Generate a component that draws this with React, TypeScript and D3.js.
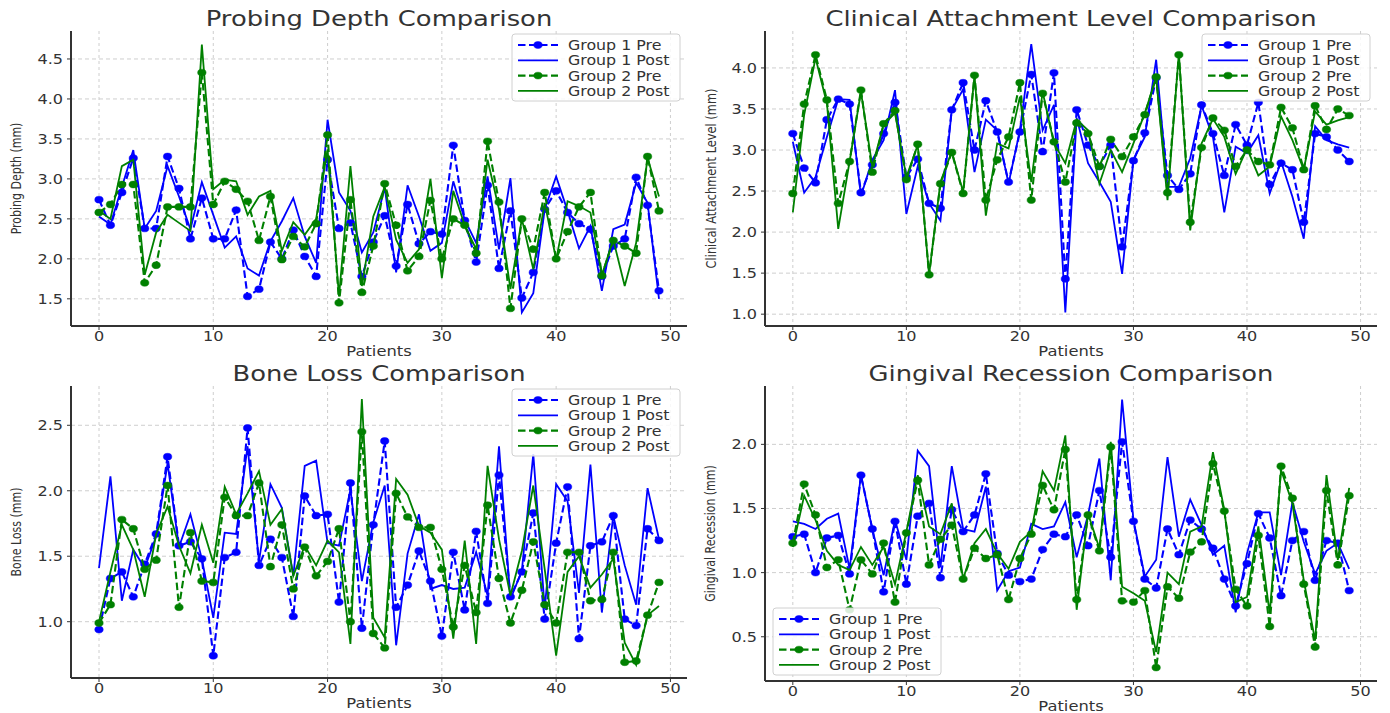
import React from "react";
import * as d3 from "d3";

// ---------- DATA ----------
const xTicks = [0, 10, 20, 30, 40, 50];
const seriesNames = ["Group 1 Pre", "Group 1 Post", "Group 2 Pre", "Group 2 Post"];

const pdG1Pre = [2.74,2.42,2.83,3.26,2.38,2.38,3.28,2.88,2.25,2.76,2.25,2.25,2.61,1.53,1.62,2.21,2.0,2.36,2.03,1.78,3.24,2.38,2.45,1.78,2.21,2.54,1.91,2.68,2.19,2.34,2.31,3.42,2.48,1.96,2.92,1.88,2.6,1.51,1.83,2.62,2.85,2.58,2.44,2.37,1.78,2.16,2.25,3.02,2.67,1.6];
const pdG1Post = [2.53,2.43,2.9,3.36,2.38,2.6,3.16,2.78,2.37,2.96,2.55,2.14,2.28,1.88,1.79,2.22,2.47,2.76,2.28,1.95,3.74,2.83,2.6,2.08,2.33,2.89,1.83,2.92,2.53,2.1,2.2,2.97,2.49,2.2,3.03,2.12,3.01,1.33,1.57,2.62,3.03,2.6,2.13,2.41,1.6,2.37,2.43,2.95,2.7,1.5];
const pdG2Pre = [2.58,2.68,2.93,2.93,1.7,1.92,2.65,2.65,2.65,4.33,2.68,2.97,2.87,2.72,2.23,2.78,1.99,2.28,2.15,2.44,3.55,1.45,2.74,1.58,2.16,2.94,2.42,1.85,2.03,2.73,2.0,2.5,2.42,2.07,3.47,2.71,1.38,2.5,2.12,2.83,2.0,2.34,2.65,2.83,1.79,2.23,2.16,2.07,3.28,2.6];
const pdG2Post = [2.6,2.5,3.16,3.24,1.8,2.33,2.55,2.45,2.35,4.68,2.87,2.99,2.97,2.55,2.78,2.85,2.1,2.46,2.3,2.5,3.37,1.53,3.16,1.66,2.53,2.9,2.24,1.95,2.12,3.0,1.76,2.85,2.42,2.12,3.24,2.62,1.62,2.5,1.87,2.7,1.99,2.72,2.66,2.58,1.8,2.24,1.66,2.2,3.26,2.78];

const calG1Pre = [3.2,2.78,2.6,3.37,3.62,3.56,2.48,2.82,3.2,3.58,2.67,2.89,2.35,2.29,3.49,3.82,3.0,3.6,3.22,2.61,3.22,3.92,2.98,3.94,1.43,3.49,3.06,2.8,3.06,1.82,2.87,3.21,3.88,2.69,2.52,2.71,3.55,3.2,2.69,3.31,3.06,3.58,2.58,2.84,2.76,2.12,3.2,3.16,3.0,2.86];
const calG1Post = [3.1,2.48,2.67,3.16,3.62,3.61,2.44,2.88,3.12,3.73,2.22,2.8,2.35,2.14,3.49,3.74,2.73,3.37,3.24,2.59,3.24,4.29,3.24,3.55,1.02,3.39,2.84,2.61,2.37,1.49,2.88,3.16,4.1,2.55,2.55,2.9,3.54,3.16,2.24,3.04,2.96,3.18,2.47,2.86,2.43,1.92,3.29,3.12,3.07,3.03];
const calG2Pre = [2.47,3.56,4.16,3.61,2.35,2.86,3.73,2.73,3.32,3.48,2.64,3.07,1.48,2.59,2.97,2.47,3.91,2.39,2.88,3.16,3.82,2.39,3.69,3.1,2.61,3.33,3.2,2.8,3.13,2.92,3.16,3.43,3.89,2.48,4.16,2.12,3.03,3.39,3.24,2.8,3.0,2.86,2.82,3.52,3.27,2.76,3.54,3.25,3.5,3.42];
const calG2Post = [2.24,3.43,4.12,3.57,2.04,2.86,3.71,2.8,3.31,3.45,2.67,3.06,1.48,2.61,2.98,2.49,3.91,2.2,3.08,3.02,3.65,2.61,3.71,3.08,2.84,3.37,3.24,2.59,3.0,2.73,3.08,3.45,3.88,2.39,4.18,2.02,3.08,3.38,3.16,2.71,3.02,2.69,2.8,3.41,3.12,2.76,3.47,3.31,3.36,3.4];

const blG1Pre = [0.94,1.33,1.38,1.19,1.44,1.67,2.26,1.58,1.61,1.48,0.74,1.49,1.53,2.48,1.43,1.63,1.49,1.04,1.96,1.81,1.82,1.15,2.06,0.95,1.74,2.38,1.11,1.28,1.54,1.31,0.89,1.53,1.09,1.69,1.14,2.12,1.19,1.38,1.83,1.02,1.6,2.03,0.87,1.58,1.61,1.81,1.02,0.97,1.71,1.62];
const blG1Post = [1.41,2.11,1.16,1.55,1.41,1.65,2.21,1.57,1.82,1.48,1.03,1.68,1.67,2.34,1.46,2.05,1.87,1.35,2.19,2.23,1.6,1.58,2.01,1.31,1.76,2.04,0.82,1.52,1.82,1.25,1.28,1.25,1.26,1.53,1.2,2.34,1.17,1.39,2.28,1.1,2.05,1.92,1.22,2.2,1.07,1.81,1.43,1.13,2.02,1.63];
const blG2Pre = [0.99,1.13,1.78,1.71,1.4,1.47,2.04,1.11,1.68,1.31,1.3,1.95,1.81,1.81,2.06,1.42,1.74,1.25,1.57,1.35,1.46,1.71,1.0,2.45,0.91,0.8,1.98,1.8,1.72,1.72,1.4,0.96,1.43,1.07,1.89,1.33,0.99,1.24,1.61,1.13,0.99,1.53,1.53,1.16,1.17,1.53,0.69,0.7,1.05,1.3];
const blG2Post = [1.0,1.38,1.74,1.55,1.19,1.67,1.88,1.58,1.37,1.74,1.45,2.03,1.82,1.98,2.15,1.74,1.86,1.35,1.58,1.43,1.62,1.53,0.83,2.7,1.03,0.88,2.09,1.97,1.73,1.68,1.55,0.87,1.62,0.83,2.19,1.63,1.2,1.54,2.04,1.4,0.74,1.38,1.5,1.26,1.36,1.48,0.84,0.67,1.05,1.12];

const grG1Pre = [1.28,1.3,1.0,1.27,1.29,0.99,1.76,1.34,0.85,1.4,0.91,1.44,1.54,0.96,1.49,1.32,1.45,1.77,1.15,0.98,0.93,0.95,1.18,1.3,1.28,1.45,1.21,1.64,1.12,2.02,1.4,0.95,0.88,1.34,1.14,1.41,1.34,1.19,0.95,0.74,1.07,1.46,1.27,0.82,1.25,1.32,0.94,1.25,1.23,0.86];
const grG1Post = [1.4,1.38,1.34,1.42,1.46,1.03,1.76,1.34,0.98,1.41,1.1,1.95,1.83,1.04,1.83,1.34,1.32,1.67,0.86,1.01,1.04,1.38,1.34,1.36,1.55,1.12,1.45,1.89,0.94,2.35,1.41,0.97,1.1,1.9,1.28,1.57,1.37,1.14,1.21,0.69,1.15,1.47,1.47,0.98,1.55,1.24,0.99,1.17,1.23,1.03];
const grG2Pre = [1.23,1.69,1.45,1.04,1.1,0.71,1.1,0.99,1.23,0.77,1.31,1.72,1.06,1.26,1.37,0.95,1.19,1.11,1.14,0.79,1.11,1.3,1.68,1.49,1.96,0.79,1.45,1.17,1.98,0.78,0.77,0.86,0.26,0.89,0.8,1.16,1.24,1.85,1.48,0.87,0.74,1.29,0.58,1.83,1.58,0.91,0.42,1.64,1.06,1.6];
const grG2Post = [1.2,1.6,1.41,1.17,1.06,1.02,1.2,1.06,1.2,0.91,1.32,1.76,1.36,1.3,1.54,0.95,1.23,1.34,1.15,1.03,1.24,1.32,1.79,1.64,2.07,0.71,1.46,1.19,2.02,0.89,0.84,0.78,0.38,1.0,0.91,1.32,1.36,1.94,1.49,0.77,0.81,1.36,0.68,1.8,1.54,0.94,0.47,1.76,1.1,1.66];

const pdTicks = [1.5, 2.0, 2.5, 3.0, 3.5, 4.0, 4.5];
const calTicks = [1.0, 1.5, 2.0, 2.5, 3.0, 3.5, 4.0];
const blTicks = [1.0, 1.5, 2.0, 2.5];
const grTicks = [0.5, 1.0, 1.5, 2.0];

const xDomain = [-2.45, 51.45];
const pdDomain = [1.16, 4.85];
const calDomain = [0.856, 4.45];
const blDomain = [0.57, 2.8];
const grDomain = [0.155, 2.455];

// ---------- LAYOUT / STYLE ----------
const W = 1390, H = 713;
const SX = 1.2;
const FONT = "DejaVu Sans, sans-serif";
const TXT = "#333333";
const colors = ["#0000ff", "#0000ff", "#008000", "#008000"];
const isPre = [true, false, true, false];

const panels = [
  { title: "Probing Depth Comparison", ylabel: "Probing Depth (mm)", data: [pdG1Pre, pdG1Post, pdG2Pre, pdG2Post], yDomain: pdDomain, yTicks: pdTicks, box: { left: 71, right: 687, top: 31, bottom: 326 }, legend: "ur", ylabelSize: 11 },
  { title: "Clinical Attachment Level Comparison", ylabel: "Clinical Attachment Level (mm)", data: [calG1Pre, calG1Post, calG2Pre, calG2Post], yDomain: calDomain, yTicks: calTicks, box: { left: 765, right: 1377, top: 31, bottom: 326 }, legend: "ur", ylabelSize: 11.4 },
  { title: "Bone Loss Comparison", ylabel: "Bone Loss (mm)", data: [blG1Pre, blG1Post, blG2Pre, blG2Post], yDomain: blDomain, yTicks: blTicks, box: { left: 71, right: 687, top: 386, bottom: 678 }, legend: "ur", ylabelSize: 11 },
  { title: "Gingival Recession Comparison", ylabel: "Gingival Recession (mm)", data: [grG1Pre, grG1Post, grG2Pre, grG2Post], yDomain: grDomain, yTicks: grTicks, box: { left: 765, right: 1377, top: 386, bottom: 681 }, legend: "ll", ylabelSize: 11 },
];

function Txt({ x, y, size, anchor = "middle", rotate = false, children }: any) {
  const tr = rotate
    ? `translate(${x},${y}) rotate(-90) scale(1,${SX})`
    : `translate(${x},${y}) scale(${SX},1)`;
  return (
    <text transform={tr} fontSize={size} textAnchor={anchor} dominantBaseline="central" fill={TXT} fontFamily={FONT}>
      {children}
    </text>
  );
}

function Marker({ cx, cy, color }: any) {
  return <ellipse cx={cx} cy={cy} rx={4.2} ry={3.4} fill={color} stroke={color} strokeWidth={0.5} />;
}

function Panel({ cfg }: any) {
  const { box, title, ylabel, data, yDomain, yTicks, legend, ylabelSize } = cfg;
  const x = d3.scaleLinear().domain(xDomain).range([box.left, box.right]);
  const y = d3.scaleLinear().domain(yDomain).range([box.bottom, box.top]);
  const line = d3.line<number>().x((_, i) => x(i)).y((d) => y(d));
  const cxm = (box.left + box.right) / 2;
  const cym = (box.top + box.bottom) / 2;

  const lw = 168, lh = 67;
  const lx = legend === "ur" ? box.right - 7 - lw : box.left + 8;
  const ly = legend === "ur" ? box.top + 3 : box.bottom - 6 - lh;

  return (
    <g>
      {/* grid */}
      {xTicks.map((t) => (
        <line key={"gx" + t} x1={x(t)} x2={x(t)} y1={box.top} y2={box.bottom} stroke="#c8c8c8" strokeWidth={0.9} strokeDasharray="3,3" />
      ))}
      {yTicks.map((t: number) => (
        <line key={"gy" + t} x1={box.left} x2={box.right} y1={y(t)} y2={y(t)} stroke="#c8c8c8" strokeWidth={0.9} strokeDasharray="4,3" />
      ))}
      {/* series */}
      {data.map((s: number[], k: number) => (
        <g key={"s" + k}>
          <path d={line(s) || ""} fill="none" stroke={colors[k]} strokeWidth={isPre[k] ? 2.1 : 1.8}
            strokeDasharray={isPre[k] ? "7.5,3.5" : undefined} strokeLinejoin="miter" />
          {isPre[k] && s.map((v, i) => <Marker key={i} cx={x(i)} cy={y(v)} color={colors[k]} />)}
        </g>
      ))}
      {/* spines */}
      <line x1={box.left} x2={box.left} y1={box.top} y2={box.bottom} stroke="#333" strokeWidth={2} />
      <line x1={box.left} x2={box.right} y1={box.bottom} y2={box.bottom} stroke="#333" strokeWidth={2} />
      {/* ticks */}
      {xTicks.map((t) => (
        <g key={"tx" + t}>
          <line x1={x(t)} x2={x(t)} y1={box.bottom} y2={box.bottom + 4} stroke="#333" strokeWidth={1} />
          <Txt x={x(t)} y={box.bottom + 10} size={13.4}>{t}</Txt>
        </g>
      ))}
      {yTicks.map((t: number) => (
        <g key={"ty" + t}>
          <line x1={box.left - 4} x2={box.left} y1={y(t)} y2={y(t)} stroke="#333" strokeWidth={1} />
          <Txt x={box.left - 8} y={y(t)} size={13.4} anchor="end">{d3.format(".1f")(t)}</Txt>
        </g>
      ))}
      {/* labels */}
      <Txt x={cxm} y={box.top - 12} size={21.5}>{title}</Txt>
      <Txt x={cxm} y={box.bottom + 25} size={13.6}>Patients</Txt>
      <Txt x={box.left - 54} y={cym} size={ylabelSize} rotate>{ylabel}</Txt>
      {/* legend */}
      <g>
        <rect x={lx} y={ly} width={lw} height={lh} rx={3} fill="#ffffff" fillOpacity={0.85} stroke="#d0d0d0" strokeWidth={1} />
        {seriesNames.map((n, k) => {
          const ry = ly + 11 + k * 15.3;
          return (
            <g key={"lg" + k}>
              <line x1={lx + 6} x2={lx + 46} y1={ry} y2={ry} stroke={colors[k]} strokeWidth={isPre[k] ? 2.1 : 1.8}
                strokeDasharray={isPre[k] ? "7.5,3.5" : undefined} />
              {isPre[k] && <Marker cx={lx + 26} cy={ry} color={colors[k]} />}
              <Txt x={lx + 56} y={ry} size={13.2} anchor="start">{n}</Txt>
            </g>
          );
        })}
      </g>
    </g>
  );
}

export default function App() {
  return (
    <svg width={W} height={H} style={{ position: "absolute", left: 0, top: 0, background: "#fff" }}>
      <rect x={0} y={0} width={W} height={H} fill="#ffffff" />
      {panels.map((p, i) => <Panel key={i} cfg={p} />)}
    </svg>
  );
}
